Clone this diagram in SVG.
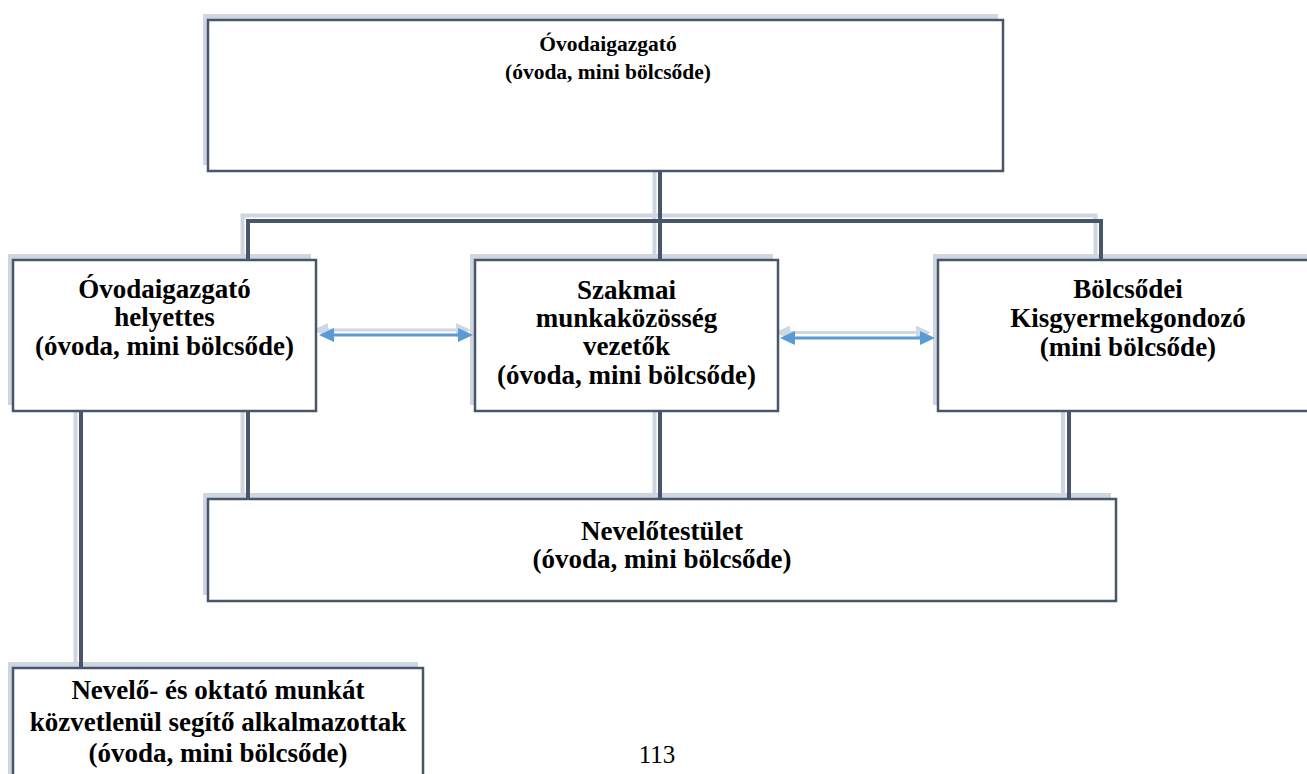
<svg xmlns="http://www.w3.org/2000/svg" width="1307" height="774" viewBox="0 0 1307 774">
<style>
.sh{fill:#cfd6e0}
.bx{fill:#ffffff;stroke:#48566c;stroke-width:2.5}
.t{font-family:"Liberation Serif","Times New Roman",serif;font-weight:bold;font-size:27px;fill:#000;text-anchor:middle}
.ts{font-size:21.5px}
.c{fill:none;stroke:#48566c;stroke-width:4}
.cs{fill:none;stroke:#cfd6e0;stroke-width:4}
.ab{stroke:#5b9bd5;stroke-width:3}
.as{stroke:#d0d7e1;stroke-width:3}
</style>
<defs>
<marker id="mb" viewBox="0 0 15 14" refX="5" refY="7" markerWidth="15" markerHeight="14" markerUnits="userSpaceOnUse" orient="auto-start-reverse"><path d="M0,0 L15,7 L0,14 z" fill="#5b9bd5"/></marker>
<marker id="ms" viewBox="0 0 15 14" refX="5" refY="7" markerWidth="15" markerHeight="14" markerUnits="userSpaceOnUse" orient="auto-start-reverse"><path d="M0,0 L15,7 L0,14 z" fill="#d0d7e1"/></marker>
</defs>
<rect width="1307" height="774" fill="#ffffff"/>
<g id="shadows">
<rect class="sh" x="203" y="14" width="795" height="151"/>
<rect class="sh" x="8" y="254" width="303" height="151"/>
<rect class="sh" x="470" y="254" width="303" height="151"/>
<rect class="sh" x="933" y="254" width="380" height="151"/>
<rect class="sh" x="203" y="493" width="908" height="102"/>
<rect class="sh" x="8" y="662" width="410" height="120"/>
</g>
<g id="connectors">
<path class="cs" d="M654.5,165 V254 M242.5,254 V215.5 H1095.5 V254 M242.5,405 V493 M654.5,405 V493 M1063,405 V493 M75.5,405 V662"/>
<path class="c" d="M660,171 V260 M248,260 V221 H1101 V260 M248,411 V499 M660,411 V499 M1069,411 V499 M81,411 V668"/>
<line class="as" x1="323" y1="330" x2="461" y2="330" marker-start="url(#ms)" marker-end="url(#ms)"/>
<line class="ab" x1="329" y1="335" x2="463" y2="335" marker-start="url(#mb)" marker-end="url(#mb)"/>
<line class="as" x1="785" y1="332.5" x2="921" y2="332.5" marker-start="url(#ms)" marker-end="url(#ms)"/>
<line class="ab" x1="790" y1="338" x2="925" y2="338" marker-start="url(#mb)" marker-end="url(#mb)"/>
</g>
<g id="n-top">
<rect class="bx" x="208" y="20" width="795" height="151"/>
<text class="t ts" x="608" y="51">Óvodaigazgató</text>
<text class="t ts" x="608" y="79">(óvoda, mini bölcsőde)</text>
</g>
<g id="n-helyettes">
<rect class="bx" x="13" y="260" width="303" height="151"/>
<text class="t" x="164.5" y="298">Óvodaigazgató</text>
<text class="t" x="164.5" y="326">helyettes</text>
<text class="t" x="164.5" y="355">(óvoda, mini bölcsőde)</text>
</g>
<g id="n-szakmai">
<rect class="bx" x="475" y="260" width="303" height="151"/>
<text class="t" x="626.5" y="299">Szakmai</text>
<text class="t" x="626.5" y="327">munkaközösség</text>
<text class="t" x="626.5" y="355">vezetők</text>
<text class="t" x="626.5" y="384">(óvoda, mini bölcsőde)</text>
</g>
<g id="n-bolcsodei">
<rect class="bx" x="938" y="260" width="380" height="151"/>
<text class="t" x="1128" y="298">Bölcsődei</text>
<text class="t" x="1128" y="327">Kisgyermekgondozó</text>
<text class="t" x="1128" y="356">(mini bölcsőde)</text>
</g>
<g id="n-nevelotestulet">
<rect class="bx" x="208" y="499" width="908" height="102"/>
<text class="t" x="662" y="540">Nevelőtestület</text>
<text class="t" x="662" y="568">(óvoda, mini bölcsőde)</text>
</g>
<g id="n-segito">
<rect class="bx" x="13" y="668" width="410" height="120"/>
<text class="t" x="218" y="699">Nevelő- és oktató munkát</text>
<text class="t" x="218" y="731">közvetlenül segítő alkalmazottak</text>
<text class="t" x="218" y="762">(óvoda, mini bölcsőde)</text>
</g>
<text x="657" y="763" font-family="Liberation Serif, Times New Roman, serif" font-size="25" text-anchor="middle" fill="#000">113</text>
</svg>
